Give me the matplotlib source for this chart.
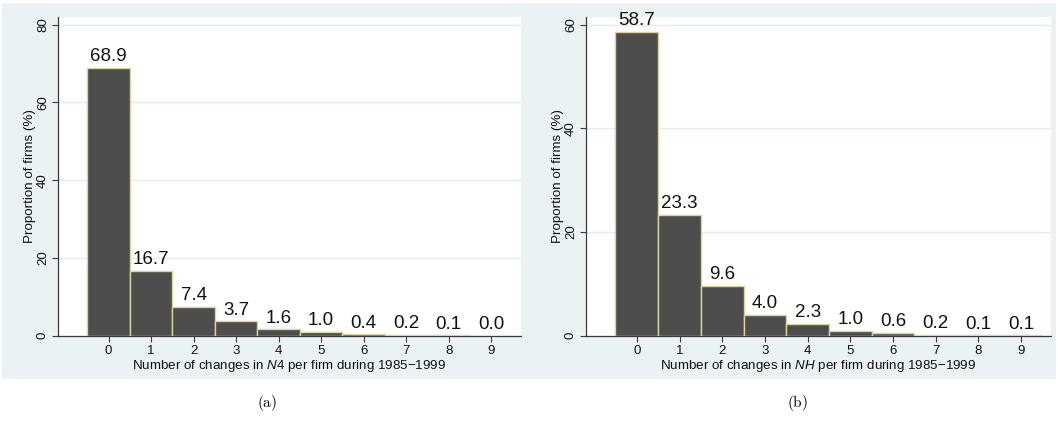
import numpy as np
import matplotlib
matplotlib.use("Agg")
import matplotlib.pyplot as plt
from matplotlib.patches import Rectangle

# data
changes = [0, 1, 2, 3, 4, 5, 6, 7, 8, 9]
share_n4 = [68.9, 16.7, 7.4, 3.7, 1.6, 1.0, 0.4, 0.2, 0.1, 0.0]
share_nh = [58.7, 23.3, 9.6, 4.0, 2.3, 1.0, 0.6, 0.2, 0.1, 0.1]
yticks_n4 = [0, 20, 40, 60, 80]
yticks_nh = [0, 20, 40, 60]
captions = ["(a)", "(b)"]

plt.rcParams['font.family'] = ['Liberation Sans', 'DejaVu Sans']
plt.rcParams['mathtext.fontset'] = 'custom'
plt.rcParams['mathtext.rm'] = 'Liberation Sans'
plt.rcParams['mathtext.it'] = 'Liberation Sans:italic'

W, H = 1058, 428
fig = plt.figure(figsize=(W / 100, H / 100), dpi=100)
fig.patch.set_facecolor('white')
# stata-like light blue graph region, drawn behind the axes
fig.patches.append(Rectangle((2 / W, 49 / H), 1054 / W, 376 / H,
                             transform=fig.transFigure, facecolor='#EAF2F3',
                             edgecolor='none', zorder=-10))

bar_col = '#4D4D4D'
edge_col = '#DCD39C'
axis_col = '#3A3A3A'
grid_col = '#E3EDEE'


def panel(rect, vals, yticks, ymax, var):
    ax = fig.add_axes(rect)
    ax.set_facecolor('white')
    ax.bar(changes, vals, width=1.0, color=bar_col, edgecolor=edge_col,
           linewidth=1.0, zorder=3)
    for x, v in zip(changes, vals):
        ax.text(x, v + ymax * 0.008, f"{v:.1f}", ha='center', va='bottom',
                fontsize=13.5, color='#111111', zorder=4)
    ax.set_xlim(-1.19, 9.7)
    ax.set_ylim(0, ymax)
    ax.set_xticks(changes)
    ax.set_yticks(yticks)
    ax.set_yticklabels([str(t) for t in yticks], rotation=90, va='center')
    ax.yaxis.grid(True, color=grid_col, linewidth=1.0, zorder=1)
    ax.set_axisbelow(True)
    for s in ['top', 'right']:
        ax.spines[s].set_visible(False)
    for s in ['left', 'bottom']:
        ax.spines[s].set_color(axis_col)
        ax.spines[s].set_linewidth(0.9)
    ax.tick_params(axis='both', colors=axis_col, labelcolor='#111111',
                   labelsize=9.5, length=4.5, width=0.8, pad=2)
    ax.set_ylabel("Proportion of firms (%)", fontsize=9.6, color='#111111',
                  labelpad=1)
    ax.set_xlabel("Number of changes in $\\mathit{" + var + "}$ per firm during 1985\u22121999",
                  fontsize=9.6, color='#111111', labelpad=1)
    return ax


panel([58 / W, 92.3 / H, 463 / W, 319.2 / H], share_n4, yticks_n4, 82.1, "N4")
panel([586 / W, 92.3 / H, 465 / W, 319.2 / H], share_nh, yticks_nh, 61.6, "NH")

for xc, cap in zip([267 / W, 797 / W], captions):
    fig.text(xc, 1 - 403 / H, "$\\mathrm{" + cap + "}$", ha='center', va='center',
             fontsize=11, math_fontfamily='cm')

fig.savefig('out.png', dpi=100)
